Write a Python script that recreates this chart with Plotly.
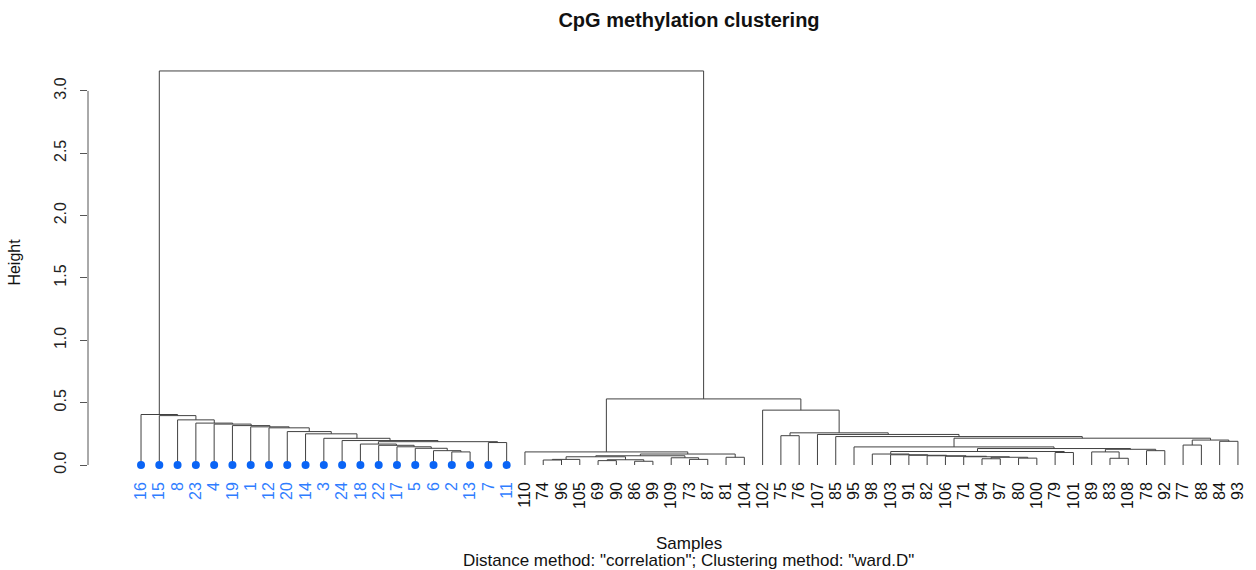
import plotly.graph_objects as go

# Hierarchical clustering merges (bottom-up). Each entry: (left, right, height)
# where a str is a sample label and an int refers to an earlier merge.
merges = [
    ("2", "13", 0.105),     # 0
    ("6", 0, 0.115),        # 1
    ("5", 1, 0.134),        # 2
    ("17", 2, 0.146),       # 3
    ("22", 3, 0.158),       # 4
    ("18", 4, 0.168),       # 5
    ("7", "11", 0.180),     # 6
    (5, 6, 0.187),          # 7
    ("24", 7, 0.196),       # 8
    ("3", 8, 0.214),        # 9
    ("14", 9, 0.250),       # 10
    ("20", 10, 0.268),      # 11
    ("12", 11, 0.298),      # 12
    ("1", 12, 0.306),       # 13
    ("19", 13, 0.316),      # 14
    ("4", 14, 0.328),       # 15
    ("23", 15, 0.336),      # 16
    ("8", 16, 0.362),       # 17
    ("15", 17, 0.396),      # 18
    ("16", 18, 0.405),      # 19
    ("74", "96", 0.040),    # 20
    (20, "105", 0.045),     # 21
    ("69", "90", 0.035),    # 22
    ("86", "99", 0.030),    # 23
    (22, 23, 0.042),        # 24
    (21, 24, 0.066),        # 25
    ("73", "87", 0.045),    # 26
    ("109", 26, 0.058),     # 27
    (25, 27, 0.074),        # 28
    ("81", "104", 0.062),   # 29
    (28, 29, 0.088),        # 30
    ("110", 30, 0.105),     # 31
    ("75", "76", 0.235),    # 32
    ("94", "97", 0.050),    # 33
    ("80", "100", 0.055),   # 34
    (33, 34, 0.062),        # 35
    ("71", 35, 0.066),      # 36
    ("106", 36, 0.070),     # 37
    ("82", 37, 0.074),      # 38
    ("91", 38, 0.078),      # 39
    ("103", 39, 0.082),     # 40
    ("98", 40, 0.088),      # 41
    ("79", "101", 0.100),   # 42
    (41, 42, 0.108),        # 43
    ("83", "108", 0.054),   # 44
    ("89", 44, 0.105),      # 45
    ("78", "92", 0.115),    # 46
    (45, 46, 0.126),        # 47
    (43, 47, 0.132),        # 48
    ("95", 48, 0.145),      # 49
    ("77", "88", 0.160),    # 50
    ("84", "93", 0.190),    # 51
    (50, 51, 0.200),        # 52
    (49, 52, 0.215),        # 53
    ("85", 53, 0.228),      # 54
    ("107", 54, 0.245),     # 55
    (32, 55, 0.258),        # 56
    ("102", 56, 0.440),     # 57
    (31, 57, 0.530),        # 58
    (19, 58, 3.160),        # 59
]

# samples of the first cluster, highlighted in blue
highlighted = ["16", "15", "8", "23", "4", "19", "1", "12", "20", "14", "3",
               "24", "18", "22", "17", "5", "6", "2", "13", "7", "11"]

y_ticks = [0.0, 0.5, 1.0, 1.5, 2.0, 2.5, 3.0]
y_tick_text = ["0.0", "0.5", "1.0", "1.5", "2.0", "2.5", "3.0"]

BLUE_DOT = "#0a64f5"
BLUE_TXT = "#2f7dff"
LINE = "#404040"
FONT = "Liberation Sans, Arial, Helvetica, sans-serif"

# ---- dendrogram layout: leaves at 1..n, internal nodes at midpoint of children
order = []
seg_x, seg_y = [], []


def layout(node):
    if isinstance(node, str):
        order.append(node)
        return float(len(order)), 0.0
    a, b, h = merges[node]
    xa, ha = layout(a)
    xb, hb = layout(b)
    seg_x.extend([xa, xa, xb, xb, None])
    seg_y.extend([ha, h, h, hb, None])
    return (xa + xb) / 2.0, h


layout(len(merges) - 1)
positions = list(range(1, len(order) + 1))

fig = go.Figure()
fig.add_trace(go.Scatter(
    x=seg_x, y=seg_y, mode="lines",
    line=dict(color=LINE, width=1), hoverinfo="skip", showlegend=False,
))

dot_x = [p for p, lab in zip(positions, order) if lab in highlighted]
fig.add_trace(go.Scatter(
    x=dot_x, y=[0.0] * len(dot_x), mode="markers",
    marker=dict(color=BLUE_DOT, size=8, line=dict(width=0)),
    hoverinfo="skip", showlegend=False,
))

tick_text = [
    f'<span style="color:{BLUE_TXT}">{lab}</span>' if lab in highlighted else lab
    for lab in order
]

fig.update_layout(
    width=1256, height=570,
    margin=dict(l=88, r=8, t=55, b=100),
    paper_bgcolor="white", plot_bgcolor="white",
    font=dict(family=FONT, color="#111"),
    title=dict(
        text="<b>CpG methylation clustering</b>",
        x=689 / 1256, xanchor="center", xref="container",
        y=1 - 20 / 570, yanchor="middle", yref="container",
        font=dict(size=20, family=FONT, color="#111"),
    ),
    xaxis=dict(
        range=[-1.9, 61.55], showgrid=False, zeroline=False, showline=False,
        tickmode="array", tickvals=positions, ticktext=tick_text,
        tickangle=-90, ticks="", ticklabelstandoff=8,
        tickfont=dict(size=16, family=FONT, color="#111"),
        fixedrange=True,
    ),
    yaxis=dict(
        range=[-0.0401, 3.288], showgrid=False, zeroline=False, showline=False,
        tickmode="array", tickvals=y_ticks, ticktext=y_tick_text,
        tickangle=-90, ticks="outside", ticklen=7, tickcolor="#555", tickwidth=1,
        ticklabelstandoff=8,
        tickfont=dict(size=16, family=FONT, color="#222"),
        title=dict(text="Height", font=dict(size=16, family=FONT, color="#111"),
                   standoff=26),
        fixedrange=True,
    ),
    shapes=[dict(type="line", xref="paper", x0=0, x1=0, yref="y",
                 y0=y_ticks[0], y1=y_ticks[-1],
                 line=dict(color="#555", width=1))],
    annotations=[
        dict(text="Samples", xref="paper", yref="paper", x=0.518, y=-0.176,
             showarrow=False, font=dict(size=17, family=FONT, color="#111"),
             xanchor="center", yanchor="middle"),
        dict(text='Distance method: "correlation"; Clustering method: "ward.D"',
             xref="paper", yref="paper", x=0.518, y=-0.217, showarrow=False,
             font=dict(size=17, family=FONT, color="#111"),
             xanchor="center", yanchor="middle"),
    ],
)

fig.write_html("out.html", config={"displayModeBar": False})
